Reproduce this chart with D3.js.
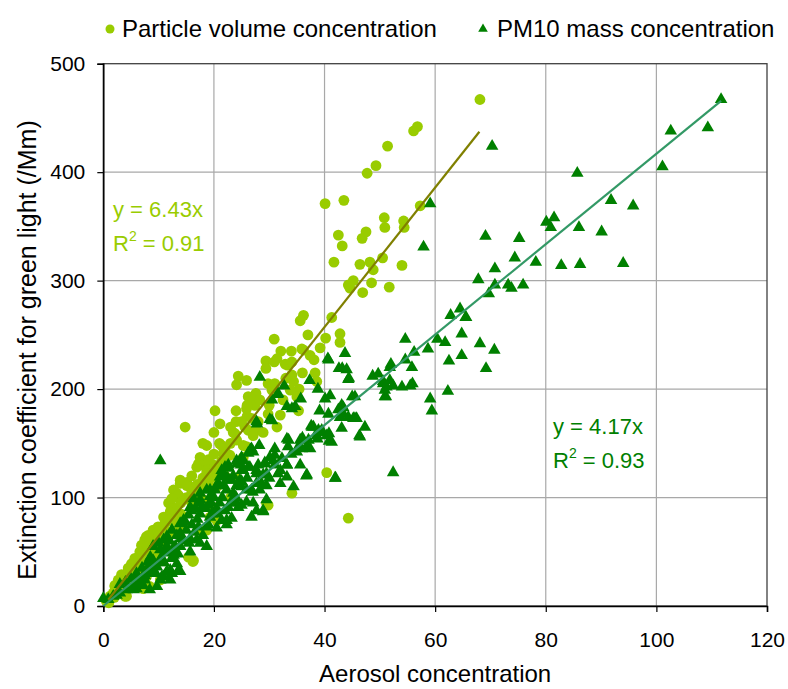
<!DOCTYPE html>
<html>
<head>
<meta charset="utf-8">
<script src="https://cdn.jsdelivr.net/npm/d3@7"></script>
<style>
  body { margin: 0; background: #fff; }
  text { font-family: "Liberation Sans", Arial, sans-serif; }
</style>
</head>
<body>
<div id="chart"></div>
<script>
// Particle volume concentration (circles)
const volX = [68.1,56.1,56.8,51.4,47.7,49.3,40.1,43.5,57.3,50.8,50.9,54.3,54.4,42.5,43.2,47.5,46.8,41.7,46.4,48.2,48.8,50.5,54,44.3,45.2,44.6,46.9,48.5,51.7,36.2,35.6,41.3,40.2,42.8,42.8,39.2,37.4,36.2,44.3,40.4,30.9,35.9,32.1,38.1,31.4,29.4,30.9,29.4,33.3,34.1,34.4,35.4,33.8,35,38.3,38.6,24.4,25.9,24.1,27.6,26.2,27.1,25.9,27.4,28.3,29.8,30.5,29.8,32,31.4,32.5,35.3,20.2,21.1,14.8,26.8,25.6,27.7,28.9,23.8,18.7,21.4,21.7,22.9,25.9,25.3,17.5,17.2,19.9,21.4,18.1,16.9,18.7,19.3,20.8,22.6,23.5,24.1,26.2,27.1,25.3,13.9,15.1,12.7,13.3,15.7,16.9,18.1,34.1,32.9,34.1,13.9,13.3,14.5,11.8,12.4,13.3,10.9,12.1,9.9,9,7.8,8.8,10.3,11.5,12.7,8.1,6.6,5.1,4.5,6,7.8,3,2.1,4.2,3.9,1.8,1.2,16.3,15.4,19.3,20.5,18.7,17.5,29.5,18.1,19.9,18.7,20.5,20.2,16.2,29.8,15.1,13.6,12.4,13,12.1,11.5,13.6,10.9,9.7,8.1,7.5,6.9,6.6,5.7,5.1,4.5,3.3,2.7,2.1,7.2,8.4,10.3,4.2,22,24,16,23,10,11,14,16,17,19,21,22,24,23,26,28,30,31,33,36,37,34,0.5,1,2,3,5,6,7,8,9,10,3,4,5,6,7,8,9,10,11,12,13,14,15,16,17,18,19,20,21,22,23,24,25,26,20,18];
const volY = [467,438,442,424,399,406,371,374,369,358,349,355,349,342,332,345,339,317,315,317,310,321,314,296,300,293,289,298,294,268,263,266,247,251,243,238,231,236,81,123,246,237,235,227,228,226,225,219,222,213,207,200,199,193,215,207,212,208,204,196,193,190,182,185,190,205,199,177,176,165,190,180,180,168,165,173,165,162,160,159,148,148,141,139,147,137,137,131,130,134,130,128,125,122,128,139,160,153,162,157,148,116,114,107,104,110,107,110,104,223,225,113,101,98,95,91,87,82,79,73,70,64,61,58,64,67,52,42,38,33,30,27,24,18,18,9,12,9,42,45,82,79,70,70,95,98,91,122,110,119,41,93,111,102,99,90,87,78,73,70,67,65,61,56,50,44,39,35,29,24,19,16,18,24,9,120,118,120,100,60,72,85,95,112,115,125,145,170,150,175,170,185,205,210,215,250,235,5,3,8,12,20,22,35,40,45,50,15,28,30,40,48,55,55,65,75,80,80,95,100,105,100,118,135,140,150,130,165,180,170,185,160,150];

// PM10 mass concentration (triangles)
const pmX = [111.7,102.6,109.3,101.1,70.3,85.7,91.8,95.8,80.1,81.5,80.9,86,90.1,69.1,75.2,74.4,78.2,82.8,86.2,94,67.8,70.8,70.8,69.7,73.2,73.8,75.9,65.6,64.5,64.8,64.8,68.1,70.7,69.2,62.8,65.5,60.4,61.8,62.5,58.7,54.6,56.2,54.6,55.8,52,48.7,49.7,50.6,51.8,50.9,52.4,51.1,54,55.5,55.9,62.3,59.1,59.4,43.7,40.6,42.6,43.2,44.4,37.3,38.8,40.1,41,45,43.1,42.5,43.4,44.3,45.5,47.3,46.3,39.1,43.1,37.6,39.3,38.7,40.8,40.8,35.6,35.9,37.4,52.4,36.7,42,59.1,57.9,28.3,32.7,31.5,30.5,35.7,33.2,34.1,30.1,27.8,28.2,26.6,26.2,27.1,31,30.7,33.2,33.4,25,24.9,22.6,22,29.2,33.2,40.7,44,44.3,40.7,43.4,42.8,37.7,39.5,40.4,38.6,37.1,41.3,35.3,36.8,35,35.6,31.6,34.7,27.7,30.5,33.5,38.9,45.2,45.8,46.4,45.5,50.6,51.2,50.9,51.8,10.3,36.8,41.9,30.1,31,32.3,33.2,27.7,28.9,31.6,33.2,34.4,27.7,29.5,25.9,24.1,22.3,22.9,21.4,21.1,25,26.2,25.3,24.1,22.6,20.5,19.3,21.7,26.8,25,24.1,22.6,21.7,23.2,24.7,20.8,20.2,18.7,17.5,16.3,17.5,19.3,19,17.8,16.6,15.7,15.4,14.5,13.9,12.4,13.3,11.5,10.9,10,9,10.3,11.5,12.4,13.3,13.9,12.4,11.5,10.6,9.7,8.8,7.8,7.2,6.6,5.4,4.2,3,1.8,0.9,0,15.7,17.5,18.7,16.9,17.2,19.3,20.5,21.4,23.2,24.4,25.9,27.1,27.7,28.9,29.5,28.6,27.7,29.5,29.2,25.3,26.5,23.5,24.1,22.6,26.8,32,28.3,26.8,25,23.5,28.9,25,20.5,22.3,22.3,19.6,17.5,16,18.7,14.8,13.9,15.7,13.9,12.7,12.1,13.6,10.3,9,7.5,6,2.4,9.7,12.1,8.1,6,7.2,8.4,10.9,3,4,5,5.5,6,6.5,7,7.5,8,8.5,9,9.5,10,10.5,11,11.5,12,12.5,13,13.5,14,14.5,15,15.5,16,16.5,17,17.5,18,18.5,19,19.5,20,20.5,21,21.5,22,22.5,23,23.5,24,25,26,27,28,30,31,32,34,36,38];
const pmY = [467,438,441,405,424,399,374,369,354,358,349,349,345,341,339,321,317,314,315,316,301,311,296,288,296,293,296,266,274,251,231,242,236,219,268,266,246,243,226,237,246,234,227,220,223,212,214,205,208,199,203,193,202,203,205,198,191,180,233,228,219,219,210,208,200,191,194,193,185,181,177,174,173,165,157,180,164,166,160,154,159,152,153,145,145,123,120,118,371,331,211,203,195,190,191,184,182,172,168,148,144,141,142,139,134,154,147,136,130,130,128,132,130,227,218,209,177,183,174,165,162,157,157,153,151,147,147,142,130,196,184,170,171,153,162,173,173,156,193,207,202,193,220,134,121,118,137,130,136,130,125,121,122,119,110,113,111,107,111,107,116,125,119,125,128,134,134,128,111,107,111,145,137,131,127,122,116,116,113,107,107,104,99,98,101,93,91,90,91,84,79,76,70,65,64,61,58,55,52,49,44,39,32,30,32,27,36,39,33,27,21,18,15,12,9,6,7,50,58,55,61,73,82,85,79,81,91,96,95,88,88,98,113,122,122,131,125,128,104,95,91,82,113,107,107,110,99,87,93,90,79,75,85,95,88,73,78,67,62,55,47,33,33,24,33,24,16,10,18,24,41,27,19,15,27,20,22,25,15,30,22,35,28,30,45,42,30,40,45,40,55,60,52,55,48,62,60,70,58,75,68,80,85,65,90,75,95,100,72,95,100,88,118,95,120,100,115,118,105,130,118,145,125,140,155,165];

// pendientes, rangos y etiquetas de ajuste
const fitSlopes = [6.43, 4.17];
const fitRanges = [[0.9, 68], [0, 111.7]];
const fitLabels = [["y = 6.43x", "0.91"], ["y = 4.17x", "0.93"]];
const seriesNames = ["Particle volume concentration", "PM10 mass concentration"];
const xTicks = [0, 20, 40, 60, 80, 100, 120];
const yTicks = [0, 100, 200, 300, 400, 500];

const W = 788, H = 689;
const margin = { top: 63.7, right: 21, bottom: 83, left: 103.3 };
const width = W - margin.left - margin.right,
      height = H - margin.top - margin.bottom;

const colVol = "#99CC00", colPm = "#008000";

const svg = d3.select("#chart").append("svg")
  .attr("width", W).attr("height", H);

const g = svg.append("g")
  .attr("transform", `translate(${margin.left},${margin.top})`);

const x = d3.scaleLinear().domain([0, 120]).range([0, width]);
const y = d3.scaleLinear().domain([0, 500]).range([height, 0]);

// rejilla
g.append("g").selectAll("line").data(xTicks.slice(1, -1)).enter().append("line")
  .attr("x1", d => x(d)).attr("x2", d => x(d)).attr("y1", 0).attr("y2", height)
  .attr("stroke", "#a8a8a8").attr("stroke-width", 1.2);
g.append("g").selectAll("line").data(yTicks.slice(1, -1)).enter().append("line")
  .attr("y1", d => y(d)).attr("y2", d => y(d)).attr("x1", 0).attr("x2", width)
  .attr("stroke", "#a8a8a8").attr("stroke-width", 1.2);

// borde del área
g.append("rect").attr("width", width).attr("height", height)
  .attr("fill", "none").attr("stroke", "#404040").attr("stroke-width", 1.3);

// ejes
const yAxis = g.append("g")
  .call(d3.axisLeft(y).tickValues(yTicks).tickSize(6).tickPadding(12));
const xAxis = g.append("g")
  .attr("transform", `translate(0,${height})`)
  .call(d3.axisBottom(x).tickValues(xTicks).tickSize(6).tickPadding(20));
[yAxis, xAxis].forEach(a => {
  a.select(".domain").attr("stroke", "#000").attr("stroke-width", 1.5);
  a.selectAll(".tick line").attr("stroke", "#000").attr("stroke-width", 1.2);
  a.selectAll(".tick text").attr("fill", "#000").style("font-size", "21px");
});

// puntos
const vol = volX.map((v, i) => ({ x: v, y: volY[i] }));
const pm = pmX.map((v, i) => ({ x: v, y: pmY[i] }));

g.append("g").selectAll("circle").data(vol).enter().append("circle")
  .attr("cx", d => x(d.x)).attr("cy", d => y(d.y)).attr("r", 5.4)
  .attr("fill", colVol);

const tri = d3.symbol(d3.symbolTriangle, 68);
g.append("g").selectAll("path").data(pm).enter().append("path")
  .attr("d", tri)
  .attr("transform", d => `translate(${x(d.x)},${y(d.y)})`)
  .attr("fill", colPm);

// líneas de tendencia
const fitColors = ["#808000", "#339966"];
fitSlopes.forEach((k, i) => {
  const r = fitRanges[i];
  g.append("line")
    .attr("x1", x(r[0])).attr("y1", y(k * r[0]))
    .attr("x2", x(r[1])).attr("y2", y(k * r[1]))
    .attr("stroke", fitColors[i]).attr("stroke-width", 2.2);
});

// ecuaciones
const eqPos = [[113, 217], [553, 434]];
const eqColors = [colVol, colPm];
fitLabels.forEach((l, i) => {
  const [px, py] = eqPos[i];
  svg.append("text").attr("x", px).attr("y", py)
    .attr("fill", eqColors[i]).style("font-size", "22px").text(l[0]);
  const t = svg.append("text").attr("x", px).attr("y", py + 34)
    .attr("fill", eqColors[i]).style("font-size", "22px");
  t.append("tspan").text("R");
  t.append("tspan").attr("dy", -10).style("font-size", "14px").text("2");
  t.append("tspan").attr("dy", 10).text(" = " + l[1]);
});

// leyenda
const leg = svg.append("g");
leg.append("circle").attr("cx", 110).attr("cy", 29).attr("r", 4.5).attr("fill", colVol);
leg.append("text").attr("x", 122).attr("y", 37).style("font-size", "24px").text(seriesNames[0]);
leg.append("path").attr("d", d3.symbol(d3.symbolTriangle, 40))
  .attr("transform", "translate(483,29)").attr("fill", colPm);
leg.append("text").attr("x", 497).attr("y", 37).style("font-size", "24px").text(seriesNames[1]);

// títulos de ejes
svg.append("text")
  .attr("x", margin.left + width / 2).attr("y", 682)
  .attr("text-anchor", "middle").style("font-size", "24px")
  .text("Aerosol concentration");
svg.append("text")
  .attr("transform", `translate(36,350) rotate(-90)`)
  .attr("text-anchor", "middle").style("font-size", "25px")
  .text("Extinction coefficient for green light (/Mm)");
</script>
</body>
</html>
